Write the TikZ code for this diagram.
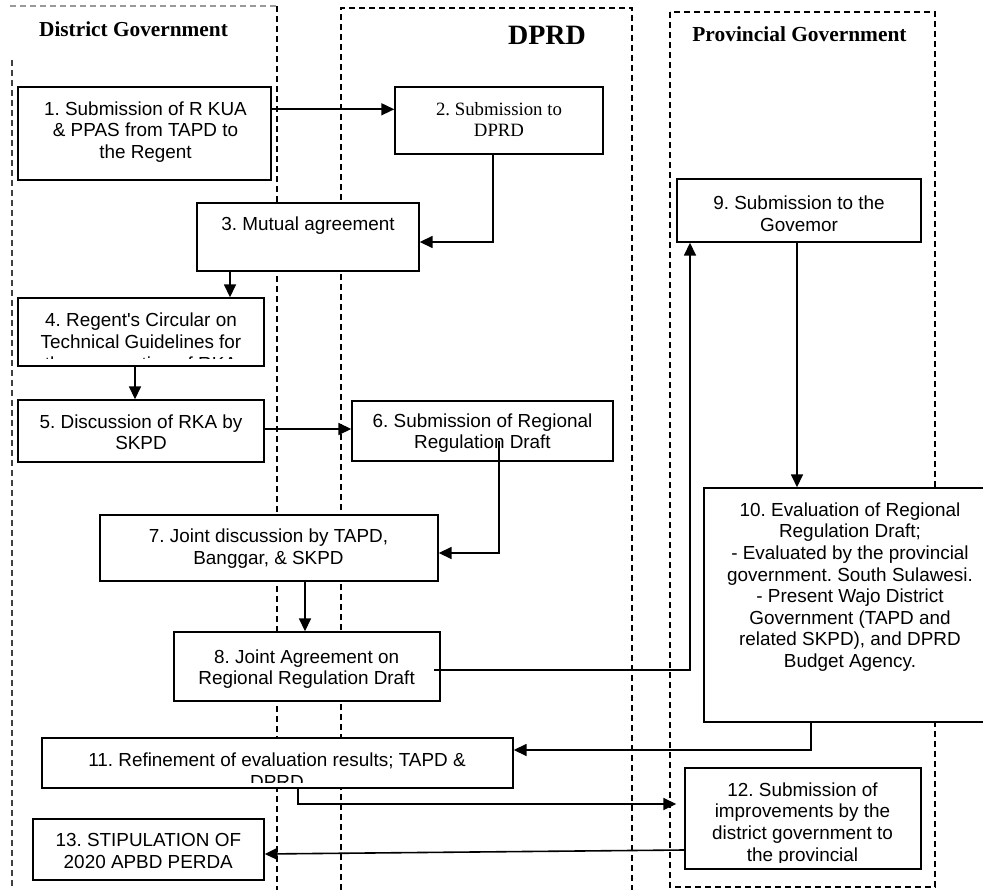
\documentclass[tikz,border=0pt]{standalone}
\usepackage{fontspec}
\setmainfont{Liberation Serif}
\newfontfamily\arialf{Liberation Sans}
\usetikzlibrary{arrows.meta,calc}
\tikzset{
 box/.style={draw=black, line width=1.4pt, fill=white, inner sep=0pt, rectangle},
 txt/.style={anchor=north, inner sep=0pt, align=center, font=\arialf\fontsize{18.9}{21.6}\selectfont\frenchspacing},
 conn/.style={line width=1.6pt, draw=black},
 arr/.style={conn, -{Triangle[length=13pt,width=12pt]}},
 lane/.style={dash pattern=on 6pt off 4pt, line width=1.4pt, draw=black},
 head/.style={anchor=base, inner sep=0pt, font=\bfseries\fontsize{21.3}{24}\selectfont},
}
\begin{document}
\begin{tikzpicture}[x=1pt,y=-1pt]
\useasboundingbox (0,0) rectangle (983,890);
% lanes
\draw[lane, draw=black!40] (10,6) -- (277,6);
\draw[lane] (277,6) -- (277,890);
\draw[lane, draw=black!75] (12,60) -- (12,890);
\draw[lane] (341,890) -- (341,8) -- (632,8) -- (632,890);
\draw[lane] (670,12) rectangle (935,887);
% headers
\node[head] (h1) at (133.5,37) {District Government};
\node[head, font=\bfseries\fontsize{28}{32}\selectfont] (h2) at (547,45) {DPRD};
\node[head, font=\bfseries\fontsize{21.4}{24}\selectfont] (h3) at (799.5,42) {Provincial Government};
% boxes
\node[box, minimum width=253pt, minimum height=93pt] (n1) at (144.5,133.5) {};
\node[box, minimum width=208pt, minimum height=67pt] (n2) at (499,120.5) {};
\node[box, minimum width=222pt, minimum height=68pt] (n3) at (308,237) {};
\node[box, minimum width=246pt, minimum height=68pt] (n4) at (141,332) {};
\node[box, minimum width=246pt, minimum height=62pt] (n5) at (141,431) {};
\node[box, minimum width=261pt, minimum height=60pt] (n6) at (482.5,431) {};
\node[box, minimum width=338pt, minimum height=66pt] (n7) at (269,548) {};
\node[box, minimum width=266pt, minimum height=69pt] (n8) at (307,666.5) {};
\node[box, minimum width=244pt, minimum height=63pt] (n9) at (799,210.5) {};
\node[box, minimum width=291pt, minimum height=234pt] (n10) at (849.5,605) {};
\node[box, minimum width=471pt, minimum height=50pt] (n11) at (277.5,763) {};
\node[box, minimum width=236pt, minimum height=101pt] (n12) at (803,818.5) {};
\node[box, minimum width=231pt, minimum height=61pt] (n13) at (148.5,849.5) {};
% texts
\node[txt] (t1) at (145.5,99.9) {\strut 1. Submission of R KUA\\ \& PPAS from TAPD to\\ the Regent};
\node[txt, font=\fontsize{18.8}{21.6}\selectfont\frenchspacing] (t2) at (499,99.9) {\strut 2. Submission to\\ DPRD};
\node[txt] (t3) at (308,214.9) {\strut 3. Mutual agreement};
\begin{scope}
\clip (n4.north west) rectangle ($(n4.south east)+(0,-8)$);
\node[txt] (t4) at (141,311.6) {\strut 4. Regent's Circular on\\ Technical Guidelines for\\ the preparation of RKA};
\end{scope}
\node[txt] (t5) at (141,412.9) {\strut 5. Discussion of RKA by\\ SKPD};
\begin{scope}
\clip (n6.north west) rectangle ($(n6.south east)+(0,-10)$);
\node[txt] (t6) at (482.5,411.9) {\strut 6. Submission of Regional\\ Regulation Draft};
\end{scope}
\node[txt] (t7) at (268.5,527.4) {\strut 7. Joint discussion by TAPD,\\ Banggar, \& SKPD};
\node[txt] (t8) at (306.6,647.9) {\strut 8. Joint Agreement on\\ Regional Regulation Draft};
\node[txt] (t9) at (799,194.2) {\strut 9. Submission to the\\ Govemor};
\node[txt] (t10) at (850,500.9) {\strut 10. Evaluation of Regional\\ Regulation Draft;\\ - Evaluated by the provincial\\ government. South Sulawesi.\\ - Present Wajo District\\ Government (TAPD and\\ related SKPD), and DPRD\\ Budget Agency.};
\begin{scope}
\clip (n11.north west) rectangle ($(n11.south east)+(0,-6)$);
\node[txt] (t11) at (277,751.6) {\strut 11. Refinement of evaluation results; TAPD \&\\ DPRD};
\end{scope}
\begin{scope}
\clip (n12.north west) rectangle ($(n12.south east)+(0,-7)$);
\node[txt] (t12) at (802.5,780.9) {\strut 12. Submission of\\ improvements by the\\ district government to\\ the provincial};
\end{scope}
\node[txt] (t13) at (148.3,831.4) {\strut 13. STIPULATION OF\\ 2020 APBD PERDA};
% connectors
\coordinate (a12) at ([yshift=-23pt]n1.north east);
\draw[arr] (a12) -- (a12 -| n2.west);
\coordinate (a23) at ([xshift=-6pt]n2.south);
\coordinate (b23) at ([yshift=-5pt]n3.east);
\draw[arr] (a23) |- (b23);
\coordinate (a34) at ([xshift=-78pt]n3.south);
\draw[arr] (a34) -- (a34 |- n4.north);
\coordinate (a45) at ([xshift=-6pt]n4.south);
\draw[arr] (a45) -- (a45 |- n5.north);
\coordinate (a56) at ([yshift=2pt]n5.east);
\draw[arr] (a56) -- (a56 -| n6.west);
\coordinate (a67) at ([xshift=16.5pt,yshift=21pt]n6.south);
\coordinate (b67) at ([yshift=-5pt]n7.east);
\draw[arr] (a67) |- (b67);
\coordinate (a78) at ([xshift=36pt]n7.south);
\draw[arr] (a78) -- (a78 |- n8.north);
\coordinate (a89) at ([xshift=-7pt,yshift=-3.5pt]n8.east);
\coordinate (b89) at ([xshift=-109pt]n9.south);
\draw[arr] (a89) -| (b89);
\coordinate (a910) at ([xshift=-2pt]n9.south);
\draw[arr] (a910) -- (a910 |- n10.north);
\coordinate (a1011) at ([xshift=-38.5pt]n10.south);
\coordinate (b1011) at ([yshift=13pt]n11.east);
\draw[arr] (a1011) |- (b1011);
\coordinate (a1112) at ([xshift=20.5pt]n11.south);
\coordinate (b1112) at ([xshift=-8pt,yshift=14.5pt]n12.west);
\draw[arr] (a1112) |- (b1112);
\coordinate (a1213) at ([yshift=-31.5pt]n12.west);
\coordinate (b1213) at ([yshift=-4.5pt]n13.east);
\draw[arr] (a1213) -- (b1213);
\end{tikzpicture}
\end{document}
